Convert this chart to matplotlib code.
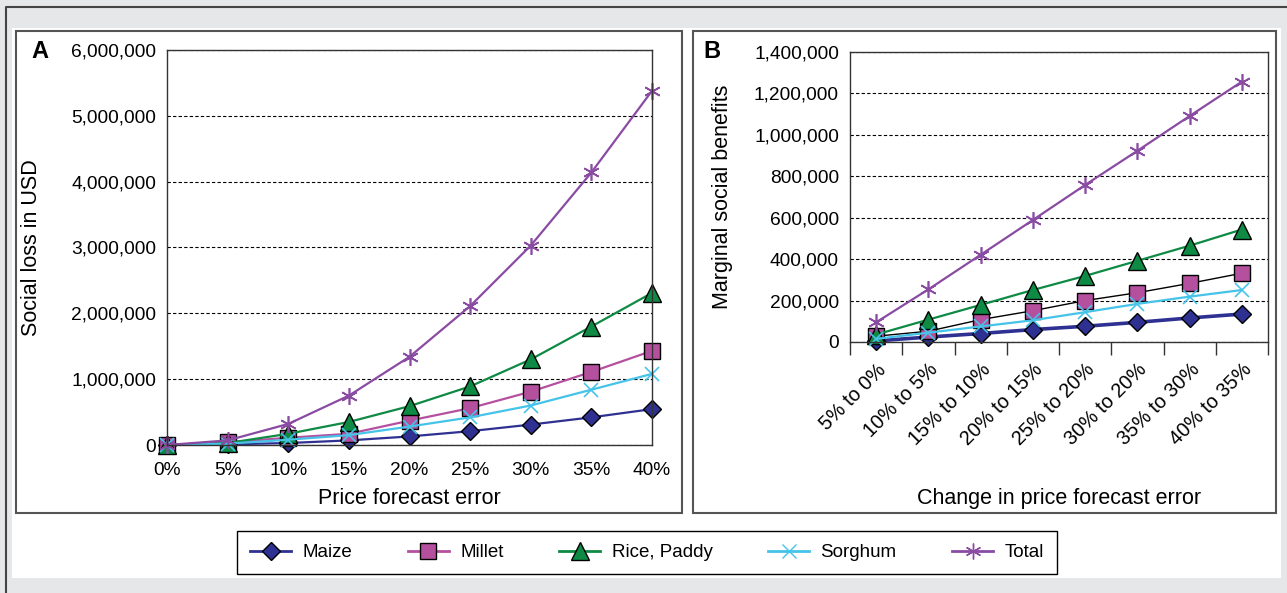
import numpy as np
import matplotlib.pyplot as plt
from matplotlib.patches import Rectangle
from matplotlib.lines import Line2D
from matplotlib.ticker import FuncFormatter, FixedLocator

plt.rcParams['font.family'] = ['Liberation Sans', 'DejaVu Sans']

# Panel A: social loss by price forecast error
err_labels = ['0%', '5%', '10%', '15%', '20%', '25%', '30%', '35%', '40%']
loss_maize = [0, 10000, 30000, 70000, 130000, 210000, 310000, 420000, 545000]
loss_millet = [0, 40000, 110000, 170000, 370000, 560000, 810000, 1110000, 1430000]
loss_rice = [0, 30000, 170000, 350000, 590000, 890000, 1300000, 1800000, 2310000]
loss_sorghum = [0, 20000, 80000, 150000, 280000, 420000, 600000, 840000, 1080000]
loss_total = [0, 70000, 320000, 750000, 1340000, 2110000, 3030000, 4140000, 5380000]

# Panel B: marginal social benefits
chg_labels = ['5% to 0%', '10% to 5%', '15% to 10%', '20% to 15%',
              '25% to 20%', '30% to 20%', '35% to 30%', '40% to 35%']
msb_maize = [5000, 24000, 41000, 60000, 76000, 95000, 116000, 135000]
msb_millet = [28000, 52000, 108000, 151000, 200000, 238000, 283000, 332000]
msb_rice = [36000, 108000, 179000, 251000, 319000, 392000, 465000, 543000]
msb_sorghum = [15000, 45000, 75000, 105000, 144000, 184000, 219000, 251000]
msb_total = [95000, 254000, 421000, 589000, 758000, 923000, 1091000, 1257000]

names = ['Maize', 'Millet', 'Rice, Paddy', 'Sorghum', 'Total']
colors = ['#2e3192', '#b5509f', '#0f8a45', '#45c3e8', '#8a4ba3']
markers = ['D', 's', '^', 'x', (6, 2, 0)]
msizes = [9.5, 11.5, 13, 10, 12]

W, H = 1287, 593
fig = plt.figure(figsize=(W / 100, H / 100), dpi=100, facecolor='#e6e7e8')

def fx(px):
    return px / W

def fy(py):
    return 1 - py / H

# frame, white area, panel boxes
fig.add_artist(Rectangle((fx(12), fy(578)), fx(1281) - fx(12), fy(28) - fy(578),
                         transform=fig.transFigure, facecolor='white', edgecolor='none', zorder=-5))
fig.add_artist(Line2D([fx(6), fx(6), 1], [0, fy(7), fy(7)], transform=fig.transFigure,
                      color='#444444', lw=1.5))
for x0, x1 in [(16, 682), (693, 1276)]:
    fig.add_artist(Rectangle((fx(x0), fy(513)), fx(x1) - fx(x0), fy(31) - fy(513),
                             transform=fig.transFigure, facecolor='none',
                             edgecolor='#555555', lw=1.5))

fmt = FuncFormatter(lambda v, p: f'{int(v):,}')

def style(ax):
    for s in ax.spines.values():
        s.set_color('#333333')
        s.set_linewidth(1.0)
    ax.yaxis.set_major_formatter(fmt)
    ax.tick_params(axis='y', length=0, pad=8, labelsize=13.8)
    ax.grid(axis='y', color='black', linestyle=(0, (3, 2)), linewidth=0.8)
    ax.set_axisbelow(True)

# ---- Panel A
axA = fig.add_axes([fx(167), fy(445), fx(652) - fx(167), fy(50) - fy(445)])
xa = np.arange(len(err_labels))
for vals, c, m, ms in zip([loss_maize, loss_millet, loss_rice, loss_sorghum, loss_total],
                          colors, markers, msizes):
    mec = c if m in ('x', (6, 2, 0)) else 'black'
    axA.plot(xa, vals, color=c, lw=1.6, marker=m, ms=ms, mfc=c, mec=mec,
             mew=1.0 if mec == 'black' else 1.2, clip_on=False)
axA.set_xlim(0, 8)
axA.set_ylim(0, 6000000)
axA.set_yticks(np.arange(0, 6000001, 1000000))
axA.set_xticks(xa)
axA.set_xticklabels(err_labels)
style(axA)
axA.tick_params(axis='x', length=0, pad=12, labelsize=13.8)
axA.set_xlabel('Price forecast error', fontsize=15.5)
axA.set_ylabel('Social loss in USD', fontsize=15.5)
axA.xaxis.set_label_coords(0.5, -0.108)
axA.yaxis.set_label_coords(-0.258, 0.5)

# ---- Panel B
axB = fig.add_axes([fx(850), fy(342), fx(1268) - fx(850), fy(52) - fy(342)])
xb = np.arange(len(chg_labels))
line_cols = [colors[0], 'black', colors[2], colors[3], colors[4]]
line_w = [2.6, 1.0, 1.6, 1.6, 1.6]
for vals, c, lc, lw, m, ms in zip([msb_maize, msb_millet, msb_rice, msb_sorghum, msb_total],
                                  colors, line_cols, line_w, markers, msizes):
    mec = c if m in ('x', (6, 2, 0)) else 'black'
    axB.plot(xb, vals, color=lc, lw=lw, marker=m, ms=ms, mfc=c, mec=mec,
             mew=1.0 if mec == 'black' else 1.2, clip_on=False)
axB.set_xlim(-0.5, 7.5)
axB.set_ylim(0, 1400000)
axB.set_yticks(np.arange(0, 1400001, 200000))
style(axB)
axB.xaxis.set_major_locator(FixedLocator(np.arange(-0.5, 8, 1)))
axB.xaxis.set_minor_locator(FixedLocator(xb))
axB.set_xticklabels([])
axB.set_xticklabels(chg_labels, minor=True, rotation=45, ha='right',
                    rotation_mode='anchor', fontsize=14.2)
axB.tick_params(axis='x', which='major', length=9, width=1.0, color='#333333')
axB.tick_params(axis='x', which='minor', length=0, pad=13)
axB.set_xlabel('Change in price forecast error', fontsize=15.5)
axB.set_ylabel('Marginal social benefits', fontsize=15.5)
axB.xaxis.set_label_coords(0.5, -0.505)
axB.yaxis.set_label_coords(-0.28, 0.5)

fig.text(fx(40), fy(52), 'A', fontsize=17, fontweight='bold', ha='center', va='center')
fig.text(fx(712), fy(52), 'B', fontsize=17, fontweight='bold', ha='center', va='center')

# ---- Legend
handles = []
for n, c, m, ms in zip(names, colors, markers, msizes):
    mec = c if m in ('x', (6, 2, 0)) else 'black'
    handles.append(Line2D([], [], color=c, lw=2.0, marker=m, ms=ms * 0.95, mfc=c, mec=mec,
                          mew=1.0, label=n))
leg = fig.legend(handles=handles, loc='center', ncol=5, mode='expand',
                 bbox_to_anchor=(fx(237), fy(573), fx(1057) - fx(237), fy(532) - fy(573)),
                 frameon=True, fancybox=False, edgecolor='black', framealpha=1,
                 fontsize=13.5, handlelength=2.2, borderaxespad=0, columnspacing=2.5,
                 handletextpad=0.6, borderpad=0.7)
leg.get_frame().set_linewidth(1.0)

fig.savefig('out.png', dpi=100, facecolor=fig.get_facecolor())
